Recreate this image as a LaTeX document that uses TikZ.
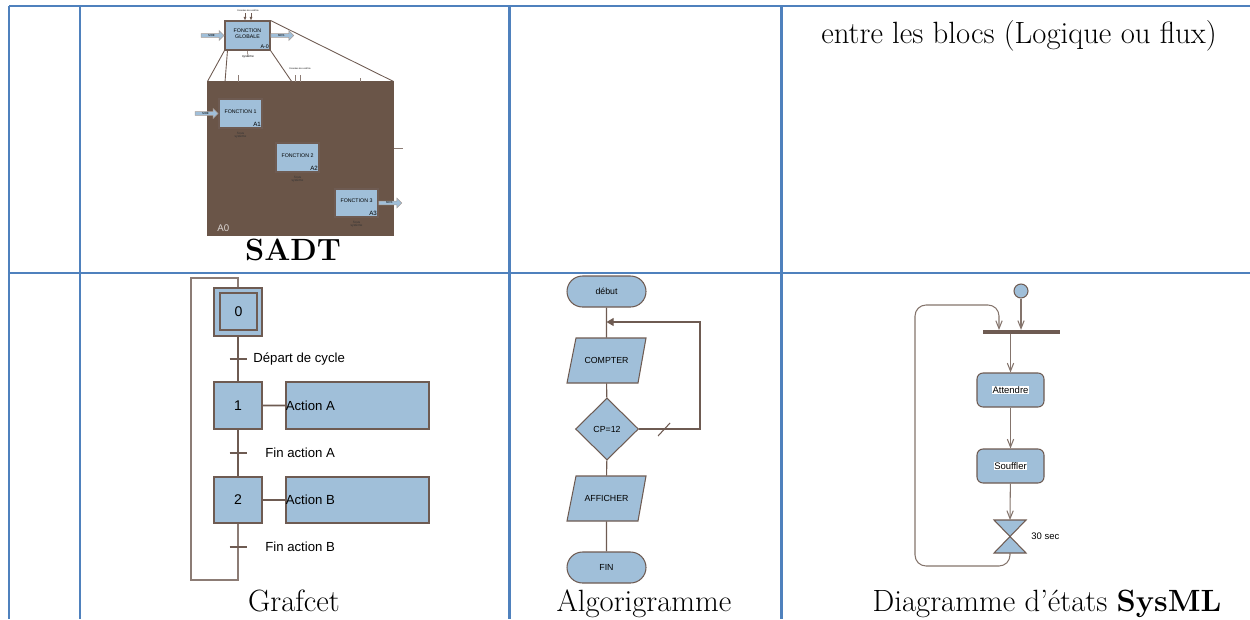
\documentclass[tikz,border=0pt]{standalone}
\usepackage{fontspec}
\newfontfamily\arial{Liberation Sans}
\usetikzlibrary{arrows.meta,positioning,calc,fit,backgrounds,shapes.geometric,shapes.misc,shapes.arrows}
\definecolor{tabbleu}{HTML}{4F81BD}
\definecolor{bleuclair}{HTML}{A0BFD9}
\definecolor{trait}{HTML}{6E5B52}
\definecolor{brun}{HTML}{6A5548}
\definecolor{gristrait}{HTML}{8C7C75}
\setlength{\fboxsep}{0.4pt}

\begin{document}
\begin{tikzpicture}[x=0.02cm,y=-0.02cm,
  grille/.style={draw=tabbleu,line width=1.7pt},
  legende/.style={font=\fontsize{17.5}{20}\selectfont},
  lien/.style={draw=trait,line width=0.6pt},
  bloc/.style={draw=trait,fill=bleuclair,line width=0.6pt,inner sep=0pt},
  minus/.style={font=\arial\fontsize{#1}{#1}\selectfont},
  fleche/.style={single arrow,draw=trait!60,fill=bleuclair,line width=0.3pt,inner sep=0.4pt,
    minimum width=0.2cm,minimum height=0.46cm,single arrow head extend=0.06cm,minus=1.6},
  etape/.style={bloc,minus=8,minimum width=0.96cm},
  graf/.style={minus=7.5,inner sep=0pt},
  terminal/.style={rounded rectangle,bloc,minimum width=1.58cm,minimum height=0.62cm,minus=5},
  entree/.style={inner sep=0pt,minimum width=1.4cm,minimum height=0.9cm,minus=5},
  decision/.style={diamond,bloc,minimum width=1.26cm,minimum height=1.24cm,minus=5},
  etat/.style={bloc,rounded corners=0.12cm,minimum width=1.34cm,minimum height=0.68cm,minus=5.4},
  transit/.style={lien,draw=trait!85,-{Straight Barb[length=4.5pt,width=3.6pt]}}]
\useasboundingbox (0,0) rectangle (1250,619);

% tableau
\draw[grille] (9,6) -- (1250,6) (9,273) -- (1250,273);
\foreach \x in {9,80,509,781} \draw[grille] (\x,6) -- (\x,619);
\node[legende,anchor=base] (blocs) at (1019,43) {entre les blocs (Logique ou flux)};

% SADT
\node[bloc,fit={(208,82) (393,235)},fill=brun,draw=brun] (a0) {};
\node[minus=5.5,text=white!75!brun,anchor=south west,inner sep=0pt] (a0-num) at (217,232) {A0};
\node[bloc,fit={(225,21) (270,50)},minus=3,align=center] (glob) {FONCTION\\GLOBALE};
\node[minus=3,anchor=south east,inner sep=0.8pt] (glob-num) at (glob.south east) {A-0};
\node[minus=1.8,inner sep=0pt] (glob-sys) at (248,57) {système};
\draw[lien,line width=0.3pt] (glob.south) -- (glob-sys);
\node[minus=1.3,inner sep=0pt] (glob-ctrl) at (248,10.5) {Données de contrôle};
\coordinate (c1) at (245,13);
\coordinate (c2) at (251,13);
\foreach \c in {c1,c2}
  \draw[lien,line width=0.4pt,-{Latex[length=2pt,width=1.8pt]}] (\c) -- (\c |- glob.north);
\node[fleche,left=0pt of glob] (moe) {MOE};
\node[fleche,right=0pt of glob] (mos) {MOS};
\coordinate (z1) at (225,82);
\coordinate (z2) at (292,82);
\draw[lien,line width=0.5pt] (glob.south west) -- (a0.north west)
  (glob.south east) -- (z2) (glob.north east) -- (a0.north east);
\draw[lien,line width=0.5pt] (glob.south west) ++(3,0) -- (z1);
\foreach \x/\h in {238/7,295/7,300/7,360/4}
  \draw[lien,draw=gristrait,line width=0.5pt] (\x,82) -- ++(0,-\h);
\node[minus=1.3,inner sep=0pt] (a0-ctrl) at (300,69) {Données de contrôle};
\node[bloc,fit={(219,99) (262,128)},minus=3] (f1) {FONCTION 1};
\node[bloc,fit={(276,143) (319,172)},minus=3] (f2) {FONCTION 2};
\node[bloc,fit={(335,189) (378,217)},minus=3] (f3) {FONCTION 3};
\foreach \f/\n in {f1/A1,f2/A2,f3/A3}{
  \node[minus=3.5,anchor=south east,inner sep=0.8pt] (\f-num) at (\f.south east) {\n};
  \node[minus=1.8,align=center,inner sep=0pt,text=black!80,below=2pt of \f] (\f-sys) {Sous\\système};
}
\node[fleche,left=0pt of f1] (f1-in) {MOE};
\node[fleche,right=0pt of f3] (f3-out) {MOS};
\coordinate (a0-sortie) at (403,148);
\draw[lien,draw=gristrait,line width=0.5pt] (a0-sortie -| a0.east) -- (a0-sortie);
\node[legende,anchor=base] (cap-sadt) at (293,260) {\textbf{SADT}};

% Grafcet
\node[etape,minimum height=0.96cm] (e0) at (238,312) {};
\node[etape,minimum width=0.74cm,minimum height=0.74cm] (e0i) at (238.5,311.5) {0};
\node[etape,minimum height=0.94cm] (e1) at (238,405.5) {1};
\node[etape,minimum height=0.92cm] (e2) at (238,500) {2};
\node[bloc,fit={(286,382) (429,429)}] (actA) {};
\node[bloc,fit={(286,477) (429,523)}] (actB) {};
\node[graf,anchor=west] (actA-txt) at (actA.west) {Action A};
\node[graf,anchor=west] (actB-txt) at (actB.west) {Action B};
\draw[lien,line width=1.1pt] (e1) -- (actA) (e2) -- (actB);
\draw[lien] (e0) -- (e1) (e1) -- (e2);
\coordinate (bas) at (191,580);
\coordinate (haut) at (191,278);
\draw[lien,draw=gristrait] (e2) -- (e2 |- bas) -- (bas) -- (haut) -- (haut -| e0) -- (e0);
\coordinate (t0) at (238,359);
\coordinate (t1) at (238,453);
\coordinate (t2) at (238,547);
\foreach \t in {t0,t1,t2}
  \draw[lien] ($(\t)+(-8.5,0)$) -- ($(\t)+(8.5,0)$);
\node[graf,right=0.3cm of t0] (t0-txt) {Départ de cycle};
\node[graf,right=0.54cm of t1] (t1-txt) {Fin action A};
\node[graf,right=0.54cm of t2] (t2-txt) {Fin action B};
\node[legende,anchor=base] (cap-grafcet) at (294,611) {Grafcet};

% Algorigramme
\node[terminal] (debut) at (606.5,291.5) {début};
\node[entree] (compter) at (606.5,360.5) {COMPTER};
\node[decision] (cp) at (607,429) {CP=12};
\node[entree] (afficher) at (606.5,498.5) {AFFICHER};
\node[terminal] (fin) at (606.5,567.5) {FIN};
\begin{scope}[on background layer]
\foreach \n in {compter,afficher}
  \filldraw[bloc] ($(\n)+(-39.5,22.5)$) -- ($(\n)+(31.5,22.5)$) -- ($(\n)+(39.5,-22.5)$)
    -- ($(\n)+(-30.5,-22.5)$) -- cycle;
\end{scope}
\draw[lien] (debut) -- (compter) -- (cp) -- (afficher) -- (fin);
\coordinate (retour) at (700,322);
\draw[lien,-{Triangle[length=4pt,width=4.5pt]}] (cp.east) -| (retour) -- (retour -| debut);
\draw[lien] ($(cp.east)+(19,7)$) -- ($(cp.east)+(31,-6)$);
\node[legende,anchor=base] (cap-algo) at (644,611) {Algorigramme};

% SysML
\node[circle,draw=trait,fill=bleuclair,line width=0.6pt,minimum size=0.28cm,inner sep=0pt] (init) at (1021,291) {};
\node[fill=trait,minimum width=1.54cm,minimum height=0.07cm,inner sep=0pt] (barre) at (1021.5,332) {};
\node[etat] (attendre) at (1010.5,390) {\colorbox{white}{Attendre}};
\node[etat] (souffler) at (1010.5,466) {\colorbox{white}{Souffler}};
\coordinate (sablier) at (1010,537);
\coordinate (sab-h) at (1010,520);
\coordinate (sab-b) at (1010,553);
\draw[bloc] ($(sablier)+(-16,-17)$) -- ++(32,0) -- ++(-32,33) -- ++(32,0) -- cycle;
\node[minus=5.4,anchor=west,inner sep=0pt] (tempo) at (1031,536) {30 sec};
\draw[transit] (init) -- (init |- barre.north);
\draw[transit] (barre.south -| attendre) -- (attendre);
\draw[transit] (attendre) -- (souffler);
\draw[transit] (souffler) -- (sab-h);
\coordinate (coin-b) at (915,566);
\coordinate (coin-h) at (915,305);
\coordinate (reprise) at (999,330);
\draw[transit,rounded corners=0.22cm] (sab-b) |- (coin-b) -- (coin-h) -| (reprise);
\node[legende,anchor=base] (cap-sysml) at (1047,611) {Diagramme d’états \textbf{SysML}};
\end{tikzpicture}
\end{document}
